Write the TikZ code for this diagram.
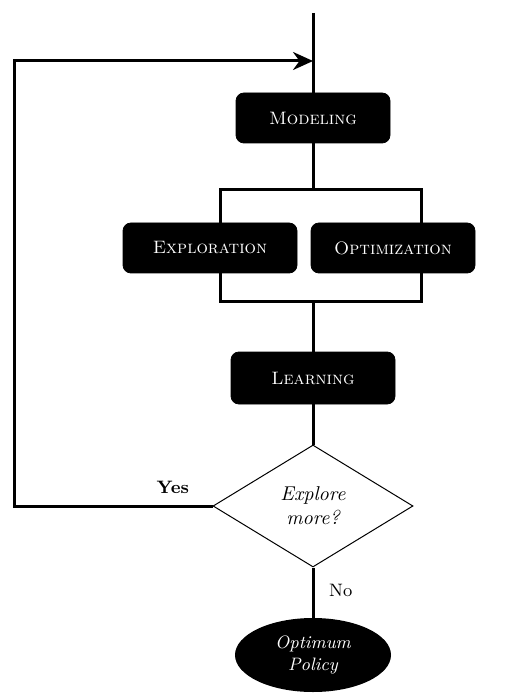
\documentclass[tikz,border=0pt]{standalone}
\usepackage{tikz}
\usetikzlibrary{positioning, arrows.meta, shapes.geometric}

\begin{document}
\begin{tikzpicture}[x=0.5pt, y=-0.5pt,
  stage/.style={draw, fill=black, rounded corners=4pt, minimum width=77pt, minimum height=25pt,
                inner sep=0pt, text=white, font=\small\scshape},
  flow/.style={line width=1.5pt},
  arrow/.style={flow, -{Stealth[length=10pt, width=9pt]}},
  lbl/.style={font=\small}
]
\useasboundingbox (0,0) rectangle (517,694);
% split box round the two parallel stages
\draw[flow] (220,190) rectangle (421,302);
\coordinate (splitT) at (313,190);
\coordinate (splitB) at (313,302);
\coordinate (start) at (313,13);
\coordinate (join) at (313,61);
\coordinate (corner) at (14,61);

\node[stage] (model) at (313,118) {Modeling};
\node[stage, minimum width=87pt] (explore) at (210,248) {Exploration};
\node[stage, minimum width=82pt] (optim) at (393,248) {Optimization};
\node[stage, minimum width=82pt, minimum height=26pt] (learn) at (313,378) {Learning};
\node[diamond, draw, line width=0.5pt, fill=white, minimum width=100pt, minimum height=61pt,
      inner sep=0pt, align=center, font=\itshape] (decide) at (313,506) {Explore\\more?};
\node[ellipse, fill=black, minimum width=78pt, minimum height=37pt, inner sep=0pt,
      text=white, align=center, font=\small\itshape] (policy) at (313,655) {Optimum\\Policy};

\draw[flow] (start) -- (model.north);
\draw[flow] (model.south) -- (splitT);
\draw[flow] (splitB) -- (learn.north);
\draw[flow] (learn.south) -- (decide.north);
\draw[flow] (decide.south) -- node[lbl, right=4pt, pos=0.45] {No} (policy.north);
\draw[arrow] (decide.west) -- node[lbl, above=2pt, pos=0.2, font=\small\bfseries] {Yes}
  (decide.west -| corner) -- (corner) -- (join);
\end{tikzpicture}
\end{document}
